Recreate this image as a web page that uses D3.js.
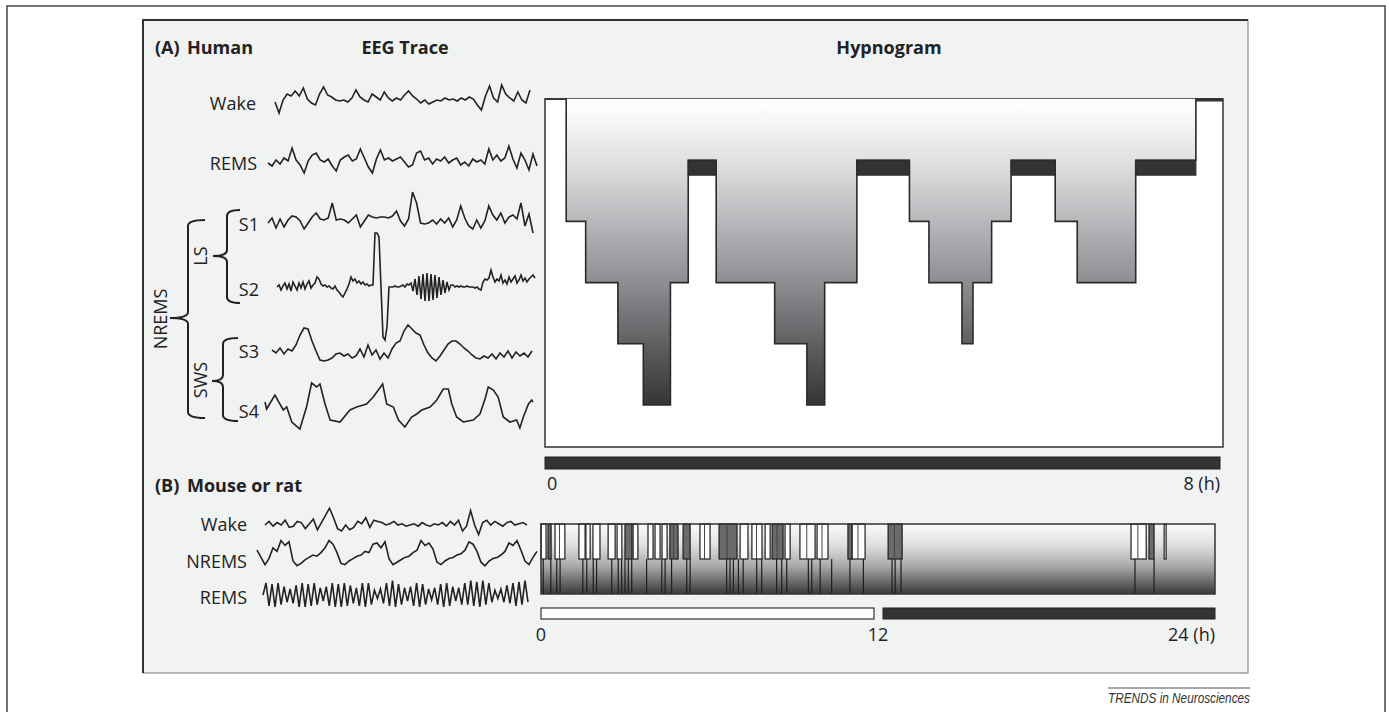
<!DOCTYPE html>
<html><head><meta charset="utf-8">
<script src="https://cdn.jsdelivr.net/npm/d3@7"></script>
<style>
body{margin:0;background:#fff;}
text{font-family:"Open Sans",sans-serif;fill:#222;}
</style>
</head><body>
<svg id="c" width="1389" height="712"></svg>
<script>
// ---------------- DATA ----------------
const humanStageOrder = ["W","R","S1","S2","S3","S4"];
const hypnoTimes  = [0,0.25,0.48,0.86,1.16,1.48,1.69,2.02,2.71,3.09,3.30,3.68,4.30,4.53,4.92,5.05,5.27,5.50,6.02,6.28,6.97,7.68,8];
const hypnoStages = ["W","S1","S2","S3","S4","S2","R","S2","S3","S4","S2","R","S1","S2","S3","S2","S1","R","S1","S2","R","W","W"];
const humanTickLabels = ["0","8 (h)"];
const humanTickValues = [0,8];

const mouseLevels = ["Wake","NREMS","REMS"];
const mouseWakeStart = [0.00,0.25,0.50,1.35,1.60,1.85,2.39,2.71,2.99,3.28,3.81,4.06,4.31,4.59,5.06,5.66,6.34,7.09,7.51,7.98,8.23,8.69,9.22,9.83,10.93,11.08,12.36,21.01,21.65,22.19];
const mouseWakeEnd   = [0.18,0.36,0.85,1.57,1.75,2.10,2.64,2.88,3.24,3.45,3.99,4.24,4.49,4.88,5.31,6.02,6.98,7.37,7.87,8.16,8.62,8.87,9.76,10.22,11.08,11.54,12.86,21.55,21.83,22.26];
const mouseWakeShade = [0,1,0,0,0,0,0,0,1,0,0,0,0,1,1,0,1,0,0,0,1,0,0,0,1,0,1,0,1,0];
const mouseRemTimes = [0.08,0.35,0.56,0.68,1.49,1.63,1.86,1.98,2.52,2.75,2.87,2.99,3.11,3.23,3.76,4.30,4.42,4.65,5.19,5.31,6.61,6.73,6.85,7.03,7.20,7.68,7.86,8.39,8.57,8.75,9.52,9.64,9.94,10.35,11.00,11.48,12.50,12.61,12.82,21.15,21.83];
const mouseTickValues = [0,12,24];
const mouseTickLabels = ["0","12","24 (h)"];
const lightPhase = [0,12];
const darkPhase = [12,24];

// EEG traces (amplitude, arbitrary units, equally spaced samples unless times given)
const eegHumanWake = [-2,-13,0,6,4,9,4,12,1,-3,-5,6,13,5,3,0,-1,0,-2,2,10,3,0,-2,6,3,0,8,2,-1,2,0,5,9,4,1,-3,0,-4,-2,0,-1,2,0,1,-1,2,0,3,1,-5,-10,4,14,2,-2,15,6,2,-1,8,0,-3,10];
const eegHumanREMS = [0,-3,3,-1,5,2,15,3,-2,-10,2,8,10,3,1,4,-3,-8,3,6,8,2,4,14,5,-4,-10,4,13,3,5,2,4,6,1,-4,-2,10,12,3,5,-1,4,2,6,0,3,5,-2,1,-3,4,1,3,-1,14,3,8,2,5,17,4,-5,10,3,-7,9,-3];
const eegS1 = [0,5,-5,4,-4,3,7,6,2,-6,0,6,10,4,3,5,20,3,4,3,0,4,8,-4,2,8,6,5,6,6,5,7,12,2,-3,4,31,20,0,-1,0,3,-1,4,0,5,-4,3,17,5,-3,-6,3,-5,2,17,8,3,10,0,6,8,4,20,-3,9,-10];
const eegS2 = [0,2,-3,1,4,-2,3,-4,5,1,-3,4,-1,5,-2,3,6,-1,2,4,
  10,8,3,1,2,0,1,
  -1,-2,1,-3,-5,-8,-10,-6,-2,3,10,6,
  8,4,6,3,5,2,3,1,2,
  2,54,54,50,0,-50,-53,-40,0,
  0,0,1,0,0,1,2,0,3,2,
  4,-4,8,-8,11,-12,13,-14,14,-14,13,-13,12,-11,10,-8,7,-6,5,-3,2,
  2,0,1,0,1,0,0,1,0,0,0,-1,0,-2,-3,5,8,7,9,17,10,5,8,6,12,4,7,3,10,5,8,11,4,7,12,6,9,5,8,10,12,9];
const eegS3 = [3,0,5,-1,4,2,8,18,25,24,12,2,-7,-8,-7,-5,-1,0,-3,-1,-5,-3,4,-4,8,-2,3,-6,0,-5,4,10,12,22,28,24,20,18,8,0,-5,-8,-3,3,9,12,12,9,5,2,-2,-5,-6,-3,-5,-1,-6,0,-4,2,-5,1,-3,0,-4,2];
const eegS4Time  = [0,0.6,3.7,6.8,8.1,10,13,15.5,17.4,19.3,20.5,22.4,24.3,28,31.7,34.2,37.9,40.4,43.9,45.4,47.9,49.8,52.2,54.7,56.6,58.5,61.6,64.1,66.5,68.4,69.7,71.5,74,77.7,80.2,82.1,83.3,85.2,87,88.9,91.4,93.9,95.1,96.4,98.3,99.5,100];
const eegS4Value = [5,-2,12,-3,0,-15,-22,0,24,20,23,3,-13,-15,-3,0,3,10,23,3,0,-13,-20,-10,-7,-3,0,7,18,18,3,-10,-15,-13,-7,8,20,17,10,-10,-15,-13,-21,-10,3,7,5];
const eegMouseWake = [0,3,-1,2,0,4,-2,-1,3,2,-3,1,5,-4,2,8,14,6,-3,-5,0,-4,-2,3,1,6,-2,4,3,2,0,1,3,0,1,-1,0,1,-1,2,0,-1,1,0,2,-1,3,0,4,-5,-1,12,0,-8,2,4,0,3,1,-1,2,3,0,1,2,0];
const eegMouseNREMS = [4,-2,-8,-3,6,3,12,8,11,-5,-9,-7,-4,-2,0,-1,2,6,12,9,2,-7,-8,-5,-3,-1,0,3,2,9,10,6,11,-3,-8,-6,-4,-2,-1,2,4,12,8,10,5,-6,-8,-5,-3,-2,0,1,4,11,9,3,-6,-9,-5,-3,-2,0,3,10,8,12,4,-5,-8,-2,3];
const eegMouseREMS = [0,10,-9,9,-10,10,-8,7,-6,5,-7,8,-10,10,-10,9,-9,10,-8,6,-5,7,-9,10,-10,9,-10,10,-9,8,-7,6,-9,10,-10,10,-8,4,-3,5,-7,10,-9,12,-10,9,-8,6,-5,7,-9,10,-10,9,-8,5,-4,6,-8,9,-10,10,-9,7,-5,6,-8,10,-8,12,-9,11,-10,12,-8,10,-6,4,-3,5,-6,8,-7,10,-9,11,-8,12,-6];

// ---------------- DRAW ----------------
const svg = d3.select("#c");
const ink = "#222";

// outer frame (open at the bottom edge of the page)
svg.append("path").attr("d","M7,720 L7,6 L1385,6 L1385,720")
  .attr("fill","none").attr("stroke","#444").attr("stroke-width",1.5);

// panel
svg.append("rect").attr("x",143).attr("y",20).attr("width",1105).attr("height",653)
  .attr("fill","#f1f2f2").attr("stroke","#8a8a8a").attr("stroke-width",1.2);
svg.append("path").attr("d","M143,673 L143,20 L1248,20").attr("fill","none")
  .attr("stroke","#333").attr("stroke-width",2);

// credit
svg.append("line").attr("x1",1108).attr("x2",1250).attr("y1",688).attr("y2",688)
  .attr("stroke","#8a8a8a").attr("stroke-width",1.5);
svg.append("text").attr("x",1250).attr("y",703).attr("text-anchor","end")
  .attr("textLength",142).attr("lengthAdjust","spacingAndGlyphs")
  .style("font-family","'Liberation Sans',Arial,sans-serif").style("font-style","italic")
  .style("font-size","14.5px").style("fill","#333").text("TRENDS in Neurosciences");

// titles
const bold = (x,y,t,anchor) => svg.append("text").attr("x",x).attr("y",y)
  .attr("text-anchor",anchor||"start").style("font-weight","700").style("font-size","18px").text(t);
bold(155,54,"(A)");
bold(187,54,"Human");
bold(405,54,"EEG Trace","middle");
bold(889,54,"Hypnogram","middle");
bold(155,492,"(B)");
bold(187,492,"Mouse or rat");

const label = (x,y,t,anchor) => svg.append("text").attr("x",x).attr("y",y)
  .attr("text-anchor",anchor||"end").style("font-size","18px").text(t);
label(256,110,"Wake");
label(257,170,"REMS");
label(259,231,"S1");
label(259,296,"S2");
label(259,358,"S3");
label(259,418,"S4");
label(247,531,"Wake");
label(247,568,"NREMS");
label(247,604,"REMS");

// rotated labels
const rlabel = (x,y,t) => svg.append("text").attr("transform",`translate(${x},${y}) rotate(-90)`)
  .attr("text-anchor","middle").attr("dy","0.35em").style("font-size","18px").text(t);
rlabel(201,256,"LS");
rlabel(201,380,"SWS");
rlabel(161,319,"NREMS");

// braces
function brace(xv, yTop, yBot, yMid, xEnd, xTip){
  const r = 6;
  return `M${xEnd},${yTop} Q${xv},${yTop} ${xv},${yTop+r} L${xv},${yMid-r} Q${xv},${yMid} ${xTip},${yMid} `+
         `M${xTip},${yMid} Q${xv},${yMid} ${xv},${yMid+r} `+
         `L${xv},${yBot-r} Q${xv},${yBot} ${xEnd},${yBot}`;
}
[[227,210,303,256,240,213],[223,338,421,381,238,212],[188,220,418,318,205,170]].forEach(b=>{
  svg.append("path").attr("d",brace(...b)).attr("fill","none").attr("stroke",ink).attr("stroke-width",2);
});

// EEG traces
function trace(values, x0, x1, y0, amp, times){
  const n = values.length;
  const xs = d3.scaleLinear().domain(times ? [0,100] : [0,n-1]).range([x0,x1]);
  const ys = d3.scaleLinear().domain([-10,10]).range([y0+amp, y0-amp]);
  const line = d3.line().x((d,i)=> xs(times ? times[i] : i)).y(d=>ys(d));
  svg.append("path").attr("d",line(values)).attr("fill","none").attr("stroke",ink)
    .attr("stroke-width",1.6).attr("stroke-linejoin","miter");
}
trace(eegHumanWake, 275, 530, 100, 10);
trace(eegHumanREMS, 268, 537, 163, 10);
trace(eegS1, 268, 533, 223, 10);
trace(eegS2, 277, 535, 287, 10);
trace(eegS3, 272, 532, 353, 10);
trace(eegS4Value, 265, 533, 407, 10, eegS4Time);
trace(eegMouseWake, 265, 527, 525, 12);
trace(eegMouseNREMS, 257, 537, 555, 12);
trace(eegMouseREMS, 263, 528, 595, 12);

// ---------- Human hypnogram ----------
const hx = d3.scaleLinear().domain([0,8]).range([545,1223]);
const hy = d3.scalePoint().domain(humanStageOrder).range([99,405]);
const defs = svg.append("defs");
const g1 = defs.append("linearGradient").attr("id","hg").attr("gradientUnits","userSpaceOnUse")
  .attr("x1",0).attr("x2",0).attr("y1",hy("W")).attr("y2",hy("S4"));
[[0,"#ffffff"],[0.08,"#f6f6f6"],[0.25,"#d6d7d9"],[0.6,"#8d8e91"],[0.82,"#5a5b5d"],[1,"#353536"]]
  .forEach(s=>g1.append("stop").attr("offset",s[0]).attr("stop-color",s[1]));

svg.append("rect").attr("x",hx(0)).attr("y",hy("W")).attr("width",hx(8)-hx(0)).attr("height",447-hy("W"))
  .attr("fill","#fff").attr("stroke","#333").attr("stroke-width",1.5);

const hData = hypnoTimes.map((t,i)=>({t, s:hypnoStages[i]}));
const area = d3.area().curve(d3.curveStepAfter).x(d=>hx(d.t)).y0(hy("W")).y1(d=>hy(d.s));
svg.append("path").attr("d",area(hData)).attr("fill","url(#hg)");
const hline = d3.line().curve(d3.curveStepAfter).x(d=>hx(d.t)).y(d=>hy(d.s));
svg.append("path").attr("d",hline(hData)).attr("fill","none").attr("stroke","#2a2a2a").attr("stroke-width",1.6);

// REM bars and final wake band
hData.forEach((d,i)=>{
  if(i === hData.length-1) return;
  const next = hData[i+1];
  if(d.s === "R"){
    svg.append("rect").attr("x",hx(d.t)).attr("y",hy("R")).attr("width",hx(next.t)-hx(d.t)).attr("height",15)
      .attr("fill","#333").attr("stroke","#2a2a2a").attr("stroke-width",1);
  }
  if(d.s === "W" && i>0){
    svg.append("rect").attr("x",hx(d.t)).attr("y",hy("W")-0.5).attr("width",hx(next.t)-hx(d.t)).attr("height",3)
      .attr("fill","#333");
  }
});

// night bar below
svg.append("rect").attr("x",hx(0)).attr("y",457).attr("width",hx(8)-3-hx(0)).attr("height",12)
  .attr("fill","#333").attr("stroke","#222").attr("stroke-width",1);
humanTickValues.forEach((v,i)=>{
  svg.append("text").attr("x", i===0 ? hx(v)+2 : hx(v)-3).attr("y",490)
    .attr("text-anchor", i===0 ? "start" : "end").style("font-size","18px").text(humanTickLabels[i]);
});

// ---------- Mouse hypnogram ----------
const mx = d3.scaleLinear().domain([0,24]).range([541,1215]);
const my = d3.scalePoint().domain(mouseLevels).range([524,594]);
const g2 = defs.append("linearGradient").attr("id","mg").attr("gradientUnits","userSpaceOnUse")
  .attr("x1",0).attr("x2",0).attr("y1",my("Wake")).attr("y2",my("REMS"));
[[0,"#fbfbfb"],[0.3,"#e0e0e1"],[0.6,"#a8a9ab"],[1,"#3a3a3b"]]
  .forEach(s=>g2.append("stop").attr("offset",s[0]).attr("stop-color",s[1]));
svg.append("rect").attr("x",mx(0)).attr("y",my("Wake")).attr("width",mx(24)-mx(0)).attr("height",my("REMS")-my("Wake"))
  .attr("fill","url(#mg)");

mouseRemTimes.forEach(t=>{
  svg.append("line").attr("x1",mx(t)).attr("x2",mx(t)).attr("y1",my("NREMS")).attr("y2",my("REMS"))
    .attr("stroke","#1e1e1e").attr("stroke-width",1.2);
});
mouseWakeStart.forEach((s,i)=>{
  const e = mouseWakeEnd[i];
  svg.append("rect").attr("x",mx(s)).attr("y",my("Wake")).attr("width",Math.max(1,mx(e)-mx(s))).attr("height",my("NREMS")-my("Wake"))
    .attr("fill", mouseWakeShade[i] ? "#6a6a6a" : "#fdfdfd").attr("stroke","#1e1e1e").attr("stroke-width",1.2);
  const w = mx(e)-mx(s);
  if(w>8){
    svg.append("line").attr("x1",mx(s)+w*0.45).attr("x2",mx(s)+w*0.45).attr("y1",my("Wake")).attr("y2",my("NREMS"))
      .attr("stroke","#444").attr("stroke-width",1);
  }
});
svg.append("rect").attr("x",mx(0)).attr("y",my("Wake")).attr("width",mx(24)-mx(0)).attr("height",my("REMS")-my("Wake"))
  .attr("fill","none").attr("stroke","#333").attr("stroke-width",1.5);

// light/dark bar
svg.append("rect").attr("x",mx(lightPhase[0])).attr("y",608).attr("width",mx(lightPhase[1])-mx(lightPhase[0])-4).attr("height",11)
  .attr("fill","#fff").attr("stroke","#333").attr("stroke-width",1.2);
svg.append("rect").attr("x",mx(darkPhase[0])+5).attr("y",608).attr("width",mx(darkPhase[1])-mx(darkPhase[0])-5).attr("height",11)
  .attr("fill","#333").attr("stroke","#222").attr("stroke-width",1);
mouseTickValues.forEach((v,i)=>{
  svg.append("text").attr("x", mx(v)).attr("y",641)
    .attr("text-anchor", i===2 ? "end" : "middle").style("font-size","18px").text(mouseTickLabels[i]);
});
</script>
</body></html>
